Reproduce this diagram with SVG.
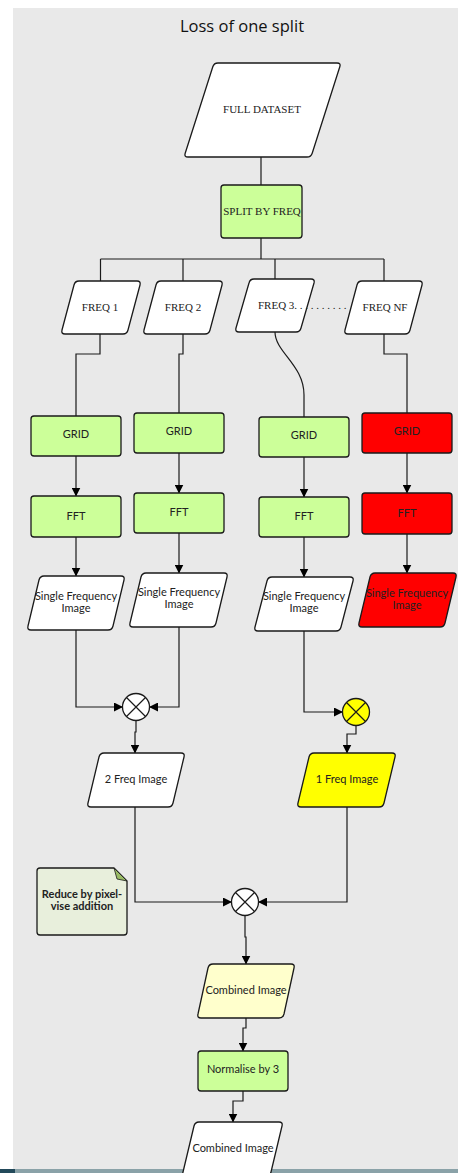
<svg xmlns="http://www.w3.org/2000/svg" width="458" height="1173" viewBox="0 0 458 1173">
<defs>
<marker id="ah" markerWidth="9" markerHeight="9" refX="8.5" refY="4.5" orient="auto" markerUnits="userSpaceOnUse"><path d="M0,0 L9,4.5 L0,9 z" fill="#000"/></marker>
</defs>
<style>
.shape{stroke:#1a1a1a;stroke-width:1.3;stroke-linejoin:round}
.conn{fill:none;stroke:#1a1a1a;stroke-width:1.2}
.arr{fill:none;stroke:#1a1a1a;stroke-width:1.2;marker-end:url(#ah)}
.serif{font-family:"Liberation Serif",serif;font-size:11px;fill:#222;text-anchor:middle}
.sans{font-family:Lato,"Liberation Sans",sans-serif;font-size:11px;fill:#222;text-anchor:middle}
.green{fill:#ccff99}
.red{fill:#ff0000}
.white{fill:#ffffff}
.yellow{fill:#ffff00}
.ltyellow{fill:#ffffcc}
.xl{stroke:#1a1a1a;stroke-width:1.2}
</style>
<rect x="0" y="0" width="458" height="1173" fill="#ffffff"/>
<rect x="13" y="8" width="445" height="1165" fill="#e9e9e9"/>
<rect x="0" y="1169" width="458" height="4" fill="#8aa2a8"/>
<rect x="0" y="1169" width="15" height="4" fill="#22495a"/>
<text x="242" y="32" font-family="'Open Sans','Noto Sans',sans-serif" font-size="16.5" fill="#111" text-anchor="middle">Loss of one split</text>

<g id="connectors">
<path class="conn" d="M261,157 V185"/>
<path class="conn" d="M261,238 V259"/>
<path class="conn" d="M100.5,259 H384"/>
<path class="conn" d="M100.5,259 V281"/>
<path class="conn" d="M183,259 V281"/>
<path class="conn" d="M275,259 V279"/>
<path class="conn" d="M384,259 V281"/>
<path class="conn" d="M100,334 V354 H76 V416"/>
<path class="conn" d="M183,334 V354 H179 V413"/>
<path class="conn" d="M275,332 C275,352 304,365 304,395 V417"/>
<path class="conn" d="M384,334 V354 H407 V413"/>
<path class="arr" d="M76,456 V496"/>
<path class="arr" d="M179,453 V493"/>
<path class="arr" d="M304,457 V497"/>
<path class="arr" d="M407,453 V493"/>
<path class="arr" d="M76,537 V576"/>
<path class="arr" d="M179,533 V573"/>
<path class="arr" d="M304,537 V577"/>
<path class="arr" d="M407,534 V573"/>
<path class="arr" d="M76,630 V707 H122.5"/>
<path class="arr" d="M179,627 V707 H149.5"/>
<path class="arr" d="M136,720.5 V732 H135 V753"/>
<path class="arr" d="M304,631 V712 H342.5"/>
<path class="arr" d="M356,725.5 V734 H347 V753"/>
<path class="arr" d="M135,807 V902 H231.5"/>
<path class="arr" d="M347,807 V902 H258.5"/>
<path class="arr" d="M245,915.5 V937 H246 V964"/>
<path class="arr" d="M246,1018 V1028 H243 V1051"/>
<path class="arr" d="M243,1091 V1101 H233 V1122"/>
</g>

<g id="full-dataset">
<path class="shape white" d="M218,63 H337 Q341,63 339.8,66.8 L312.2,153.2 Q311,157 307,157 H188 Q184,157 185.2,153.2 L212.8,66.8 Q214,63 218,63 Z"/>
<text class="serif" x="262" y="113">FULL DATASET</text>
</g>
<g id="split">
<rect class="shape green" x="221" y="185" width="81" height="53" rx="3"/>
<text class="serif" x="262" y="215">SPLIT BY FREQ</text>
</g>

<g id="freq1">
<path class="shape white" d="M79,281 H137 Q141,281 140,285 L128,330 Q127,334 123,334 H65 Q61,334 62,330 L74,285 Q75,281 79,281 Z"/>
<text class="serif" x="100" y="311">FREQ 1</text>
</g>
<g id="freq2">
<path class="shape white" d="M161,281 H219 Q223,281 222,285 L210,330 Q209,334 205,334 H147 Q143,334 144,330 L156,285 Q157,281 161,281 Z"/>
<text class="serif" x="183" y="311">FREQ 2</text>
</g>
<g id="freq3">
<path class="shape white" d="M254,279 H311 Q315,279 314,283 L301,328 Q300,332 296,332 H239 Q235,332 236,328 L249,283 Q250,279 254,279 Z"/>
<text class="serif" x="258" y="309" style="text-anchor:start">FREQ 3. . . . . . . . . .</text>
</g>
<g id="freqnf">
<path class="shape white" d="M362,281 H419 Q423,281 422,285 L410,330 Q409,334 405,334 H348 Q344,334 345,330 L357,285 Q358,281 362,281 Z"/>
<text class="serif" x="385" y="311">FREQ NF</text>
</g>

<g id="grid1"><rect class="shape green" x="31" y="416" width="90" height="40" rx="3"/><text class="sans" x="76" y="438">GRID</text></g>
<g id="grid2"><rect class="shape green" x="134" y="413" width="90" height="40" rx="3"/><text class="sans" x="179" y="435">GRID</text></g>
<g id="grid3"><rect class="shape green" x="259" y="417" width="90" height="40" rx="3"/><text class="sans" x="304" y="439">GRID</text></g>
<g id="gridnf"><rect class="shape red" x="362" y="413" width="90" height="40" rx="3"/><text class="sans" x="407" y="435">GRID</text></g>

<g id="fft1"><rect class="shape green" x="31" y="496" width="90" height="41" rx="3"/><text class="sans" x="76" y="520">FFT</text></g>
<g id="fft2"><rect class="shape green" x="134" y="493" width="90" height="40" rx="3"/><text class="sans" x="179" y="516">FFT</text></g>
<g id="fft3"><rect class="shape green" x="259" y="497" width="90" height="40" rx="3"/><text class="sans" x="304" y="520">FFT</text></g>
<g id="fftnf"><rect class="shape red" x="362" y="493" width="90" height="41" rx="3"/><text class="sans" x="407" y="517">FFT</text></g>

<g id="sfi1"><path class="shape white" d="M44,576 H121 Q125,576 124,580 L113,626 Q112,630 108,630 H31 Q27,630 28,626 L39,580 Q40,576 44,576 Z"/><text class="sans" x="76" y="600">Single Frequency</text><text class="sans" x="76" y="612">Image</text></g>
<g id="sfi2"><path class="shape white" d="M146,573 H224 Q228,573 227,577 L216,623 Q215,627 211,627 H133 Q129,627 130,623 L141,577 Q142,573 146,573 Z"/><text class="sans" x="179" y="596">Single Frequency</text><text class="sans" x="179" y="608">Image</text></g>
<g id="sfi3"><path class="shape white" d="M272,577 H350 Q354,577 353,581 L341,627 Q340,631 336,631 H258 Q254,631 255,627 L267,581 Q268,577 272,577 Z"/><text class="sans" x="304" y="600">Single Frequency</text><text class="sans" x="304" y="612">Image</text></g>
<g id="sfinf"><path class="shape red" d="M375,573 H453 Q457,573 456,577 L445,623 Q444,627 440,627 H362 Q358,627 359,623 L370,577 Q371,573 375,573 Z"/><text class="sans" x="407" y="597">Single Frequency</text><text class="sans" x="407" y="609">Image</text></g>

<g id="sum1"><circle class="shape white" cx="136" cy="707" r="13.5"/><path class="xl" d="M126.5,697.5 L145.5,716.5 M145.5,697.5 L126.5,716.5"/></g>
<g id="sum2"><circle class="shape yellow" cx="356" cy="712" r="13.5"/><path class="xl" d="M346.5,702.5 L365.5,721.5 M365.5,702.5 L346.5,721.5"/></g>

<g id="freq2img"><path class="shape white" d="M104,753 H181 Q185,753 184,757 L173,803 Q172,807 168,807 H91 Q87,807 88,803 L99,757 Q100,753 104,753 Z"/><text class="sans" x="136" y="783">2 Freq Image</text></g>
<g id="freq1img"><path class="shape yellow" d="M314,753 H392 Q396,753 395,757 L384,803 Q383,807 379,807 H301 Q297,807 298,803 L309,757 Q310,753 314,753 Z"/><text class="sans" x="347" y="783">1 Freq Image</text></g>

<g id="note">
<path class="shape" fill="#e8efdc" d="M40,868 H114 L127,881 V932 Q127,935 124,935 H40 Q37,935 37,932 V871 Q37,868 40,868 Z"/>
<path d="M114,868 L127,881 L117,879 Z" fill="#99bb66" stroke="#1a1a1a" stroke-width="0.8" stroke-linejoin="round"/>
<text class="sans" x="82" y="898" font-weight="bold">Reduce by pixel-</text>
<text class="sans" x="82" y="910" font-weight="bold">vise addition</text>
</g>

<g id="sum3"><circle class="shape white" cx="245" cy="902" r="13.5"/><path class="xl" d="M235.5,892.5 L254.5,911.5 M254.5,892.5 L235.5,911.5"/></g>

<g id="combined1"><path class="shape ltyellow" d="M213,964 H291 Q295,964 294,968 L284,1014 Q283,1018 279,1018 H201 Q197,1018 198,1014 L208,968 Q209,964 213,964 Z"/><text class="sans" x="246" y="994">Combined Image</text></g>
<g id="normalise"><rect class="shape green" x="198" y="1051" width="90" height="40" rx="3"/><text class="sans" x="243" y="1073">Normalise by 3</text></g>
<g id="combined2"><path class="shape white" d="M199,1122 H279 Q283,1122 282,1126 L271,1172 Q270,1176 266,1176 H186 Q182,1176 183,1172 L194,1126 Q195,1122 199,1122 Z"/><text class="sans" x="233" y="1152">Combined Image</text></g>
</svg>
